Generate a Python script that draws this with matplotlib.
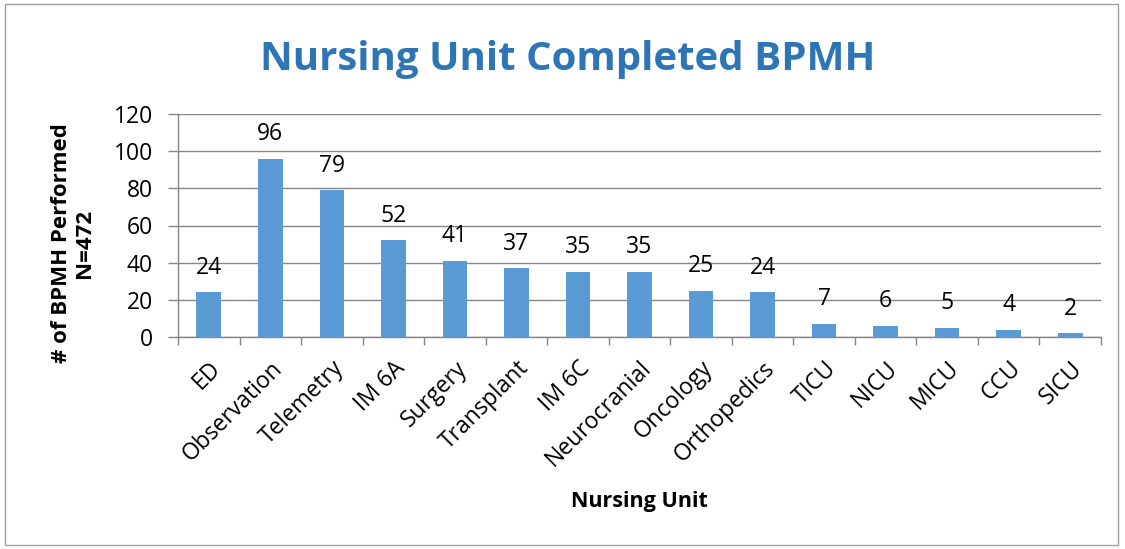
import matplotlib
matplotlib.use("Agg")
import matplotlib.pyplot as plt
from matplotlib.patches import Rectangle

units = ["ED", "Observation", "Telemetry", "IM 6A", "Surgery", "Transplant", "IM 6C",
         "Neurocranial", "Oncology", "Orthopedics", "TICU", "NICU", "MICU", "CCU", "SICU"]
counts = [24, 96, 79, 52, 41, 37, 35, 35, 25, 24, 7, 6, 5, 4, 2]
yticks = [0, 20, 40, 60, 80, 100, 120]

plt.rcParams['font.family'] = ['Open Sans', 'DejaVu Sans']

W, H = 1125, 549
fig = plt.figure(figsize=(W/100, H/100), dpi=100)
ax = fig.add_axes([178/W, 1-337/H, (1101-178)/W, (337-114)/H])

x = list(range(len(units)))
ax.bar(x, counts, width=0.4, color="#5B9BD5", zorder=3)
for xi, v in zip(x, counts):
    ax.annotate(str(v), (xi, v), xytext=(0, 9), textcoords="offset points",
                ha="center", va="bottom", fontsize=16.5, color="black")

ax.set_xlim(-0.5, len(units)-0.5)
ax.set_ylim(0, 120)
ax.set_yticks(yticks)
ax.set_yticklabels([str(t) for t in yticks], fontsize=16.5)
ax.yaxis.grid(True, color="#868686", linewidth=1, zorder=0)
ax.set_axisbelow(True)

ax.set_xticks([i - 0.5 for i in range(len(units)+1)], minor=False)
ax.set_xticklabels([])
ax.set_xticks(x, minor=True)
ax.set_xticklabels(units, minor=True, rotation=45, ha="right", va="top",
                   rotation_mode="anchor", fontsize=16.5)
ax.tick_params(axis="x", which="minor", length=0, pad=14)
ax.tick_params(axis="x", which="major", length=6, color="#868686", width=1)
ax.tick_params(axis="y", length=7, color="#868686", width=1, pad=11)

for s in ["top", "right"]:
    ax.spines[s].set_visible(False)
for s in ["left", "bottom"]:
    ax.spines[s].set_color("#868686")
    ax.spines[s].set_linewidth(1)

fig.text(639/W, 1-502/H, "Nursing Unit", ha="center", va="center",
         fontsize=15.5, fontweight="bold")
fig.text(73/W, 1-243/H, "# of BPMH Performed\nN=472", ha="center", va="center",
         rotation=90, fontsize=16, fontweight="bold", linespacing=1.15, multialignment="center")

fig.text(568/W, 1-70/H, "Nursing Unit Completed BPMH", ha="center", va="baseline",
         fontsize=29, fontweight="bold", color="#2E75B6")

fig.patches.append(Rectangle((5/W, 4/H), (1118-5)/W, (545-4)/H, transform=fig.transFigure,
                             fill=False, edgecolor="#A0A0A0", linewidth=1))

fig.savefig("out.png", dpi=100)
